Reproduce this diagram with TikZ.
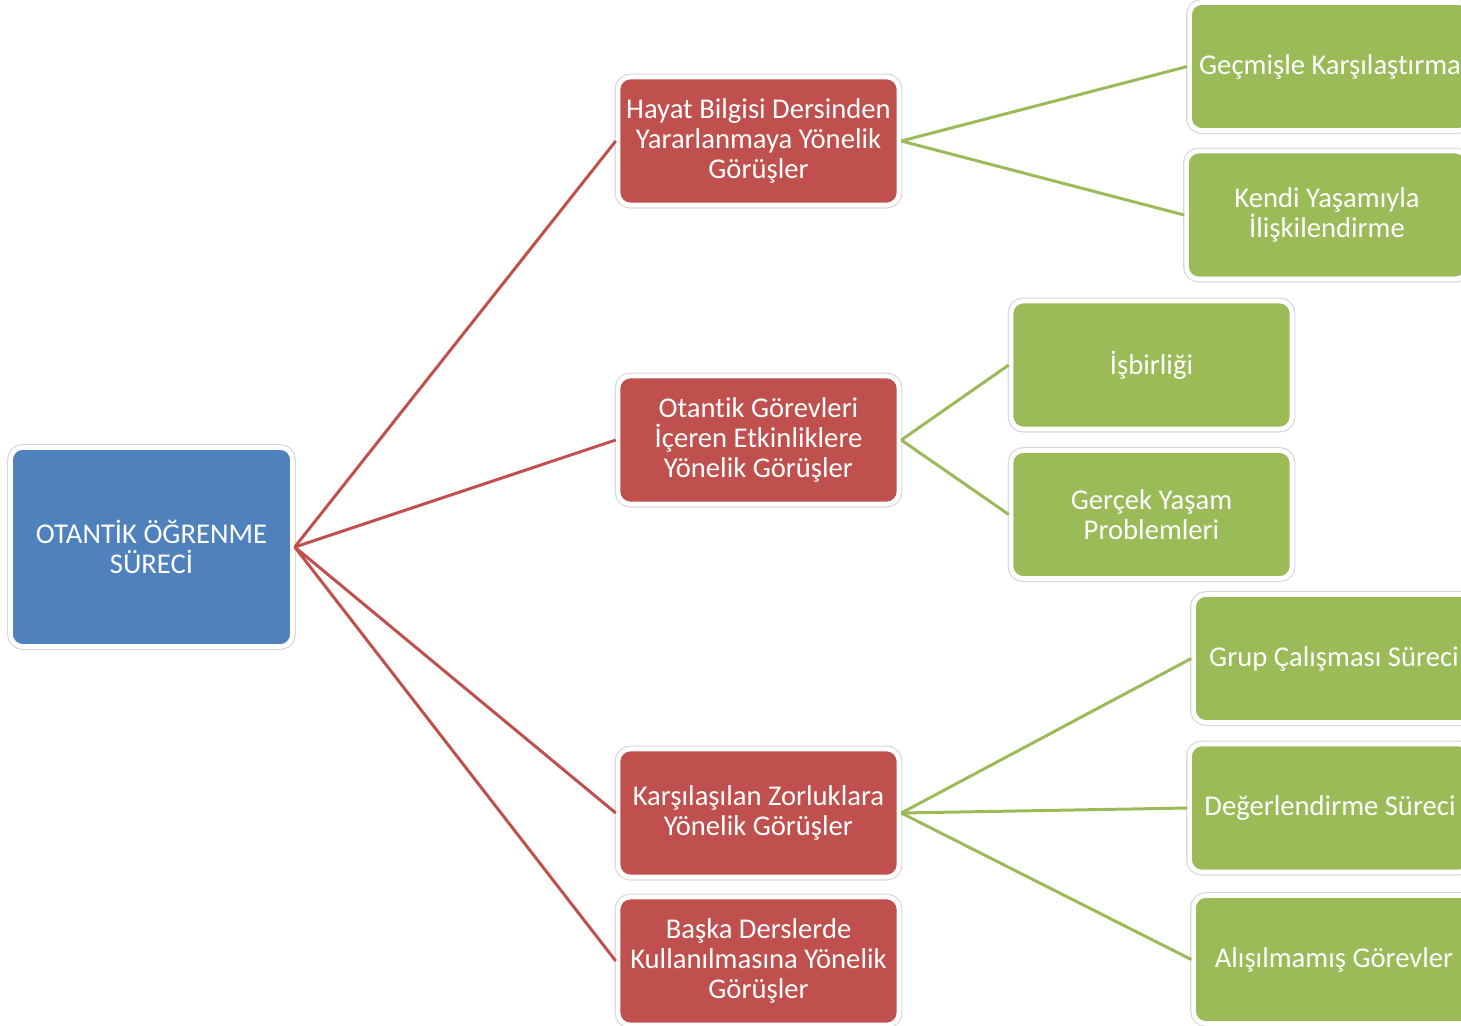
\documentclass[tikz,border=0pt]{standalone}
\usepackage{fontspec}
\setmainfont[Ligatures=NoCommon]{Carlito}
\definecolor{rootblue}{HTML}{4F81BD}
\definecolor{midred}{HTML}{C0504D}
\definecolor{leafgreen}{HTML}{9BBB59}
\begin{document}
\begin{tikzpicture}[x=0.02cm,y=-0.02cm]
\tikzstyle{box}=[rounded corners=7pt, text=white, align=center, font=\fontsize{16.3}{17}\selectfont,
  draw=white, line width=2.6pt, preaction={draw=black!15, line width=4pt},
  minimum width=5.62cm, minimum height=2.56cm, inner sep=2pt]
\tikzstyle{root}=[box, fill=rootblue, minimum width=5.64cm, minimum height=3.98cm]
\tikzstyle{view}=[box, fill=midred]
\tikzstyle{theme}=[box, fill=leafgreen]
\tikzstyle{redline}=[draw=midred, line width=1.7pt]
\tikzstyle{greenline}=[draw=leafgreen, line width=1.7pt]

\clip (0,0) rectangle (1461,1025);

\draw (151.5,547) node[root] (otantik) {OTANTİK ÖĞRENME\\SÜRECİ};

\draw (758.5,141) node[view] (hayat) {Hayat Bilgisi Dersinden\\Yararlanmaya Yönelik\\Görüşler};
\draw (758.5,440) node[view] (gorev) {Otantik Görevleri\\İçeren Etkinliklere\\Yönelik Görüşler};
\draw (758.5,813) node[view] (zorluk) {Karşılaşılan Zorluklara\\Yönelik Görüşler};
\draw (758.5,961) node[view] (baska) {Başka Derslerde\\Kullanılmasına Yönelik\\Görüşler};

\draw (1330,66.5) node[theme] (gecmis) {Geçmişle Karşılaştırma};
\draw (1327,215) node[theme] (yasam) {Kendi Yaşamıyla\\İlişkilendirme};
\draw (1151.5,365) node[theme] (isbirligi) {İşbirliği};
\draw (1151.5,514.5) node[theme] (problem) {Gerçek Yaşam\\Problemleri};
\draw (1334,658.5) node[theme] (grup) {Grup Çalışması Süreci};
\draw (1330,808) node[theme] (deger) {Değerlendirme Süreci};
\draw (1334,959.5) node[theme] (alisilmamis) {Alışılmamış Görevler};

\draw[redline] (otantik.east) edge (hayat.west);
\draw[redline] (otantik.east) edge (gorev.west);
\draw[redline] (otantik.east) edge (zorluk.west);
\draw[redline] (otantik.east) edge (baska.west);

\draw[greenline] (hayat.east) edge (gecmis.west);
\draw[greenline] (hayat.east) edge (yasam.west);
\draw[greenline] (gorev.east) edge (isbirligi.west);
\draw[greenline] (gorev.east) edge (problem.west);
\draw[greenline] (zorluk.east) edge (grup.west);
\draw[greenline] (zorluk.east) edge (deger.west);
\draw[greenline] (zorluk.east) edge (alisilmamis.west);
\end{tikzpicture}
\end{document}
